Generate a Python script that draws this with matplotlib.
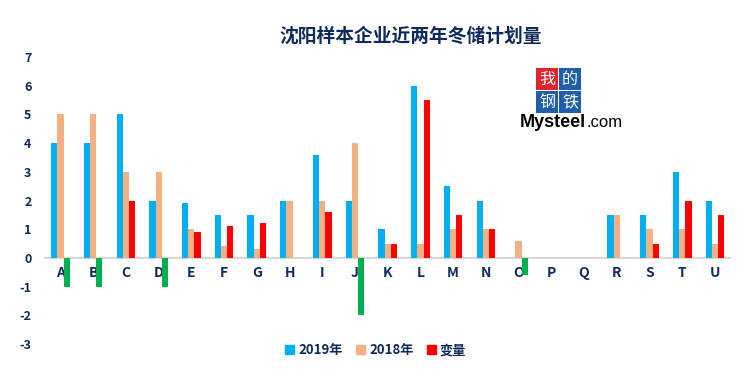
import matplotlib.pyplot as plt
import numpy as np
from matplotlib.patches import Patch, Rectangle

plt.rcParams['font.family'] = ['Noto Sans CJK SC', 'DejaVu Sans']

categories = list("ABCDEFGHIJKLMNOPQRSTU")
y2019 = [4, 4, 5, 2, 1.9, 1.5, 1.5, 2, 3.6, 2, 1, 6, 2.5, 2, 0, 0, 0, 1.5, 1.5, 3, 2]
y2018 = [5, 5, 3, 3, 1, 0.4, 0.3, 2, 2, 4, 0.5, 0.5, 1, 1, 0.6, 0, 0, 1.5, 1, 1, 0.5]
change = [-1, -1, 2, -1, 0.9, 1.1, 1.2, 0, 1.6, -2, 0.5, 5.5, 1.5, 1, -0.6, 0, 0, 0, 0.5, 2, 1.5]
yticks = list(range(-3, 8))

navy = '#0E2A5C'
c19 = '#00B0F0'
c18 = '#F4B183'
cchg = '#FF0000'
cneg = '#00B050'

fig = plt.figure(figsize=(7.47, 3.83), dpi=100)
ax = fig.add_axes([0.059, 0.102, 0.92, 0.749])

x = np.arange(len(categories))
w = 0.19
ax.bar(x - w, y2019, w, color=c19)
ax.bar(x, y2018, w, color=c18)
chg_colors = [cneg if v < 0 else cchg for v in change]
ax.bar(x + w, change, w, color=chg_colors)

ax.set_xlim(-0.5, len(categories) - 0.5)
ax.set_ylim(-3, 7)
ax.set_yticks(yticks)
ax.set_yticklabels([str(t) for t in yticks], fontsize=9, fontweight='bold', color=navy)
ax.tick_params(axis='y', length=0, pad=9)
ax.set_xticks([])
for i, c in enumerate(categories):
    ax.text(i, -0.52, c, ha='center', va='center', fontsize=10, fontweight='bold',
            color=navy, zorder=0)
ax.axhline(0, color='#D0D0D0', lw=1.2, zorder=0.5)
for s in ax.spines.values():
    s.set_visible(False)

fig.text(0.549, 0.905, '沈阳样本企业近两年冬储计划量', ha='center', va='center',
         fontsize=13.5, fontweight='bold', color=navy)

handles = [Patch(color=c19), Patch(color=c18), Patch(color=cchg)]
labels = ['2019年', '2018年', '变量']
leg = fig.legend(handles, labels, loc='center', bbox_to_anchor=(0.503, 0.085), ncol=3,
                 frameon=False, handlelength=0.7, handleheight=0.7, handletextpad=0.3,
                 columnspacing=1.0, prop={'size': 9.5, 'weight': 'bold'})
for t in leg.get_texts():
    t.set_color(navy)

# logo
W, H = 747, 383
bs = 22
boxes = [('我', 536, 68, '#E0242B'), ('的', 559, 68, '#1F5EA8'),
         ('钢', 536, 91, '#1F5EA8'), ('铁', 559, 91, '#1F5EA8')]
for ch, bx, by, bc in boxes:
    fig.patches.append(Rectangle((bx / W, 1 - (by + bs) / H), bs / W, bs / H,
                                 transform=fig.transFigure, fc=bc, ec='none'))
    fig.text((bx + bs / 2) / W, 1 - (by + bs / 2) / H, ch, ha='center', va='center',
             fontsize=11.5, color='white')
t1 = fig.text(520 / W, 1 - 127 / H, 'Mysteel', ha='left', va='baseline', fontsize=13,
              fontweight='bold', color='black', family='Liberation Sans')
fig.canvas.draw()
ext = t1.get_window_extent()
fig.text(ext.x1 / W + 0.001, 1 - 127 / H, '.com', ha='left', va='baseline', fontsize=12,
         color='black', family='Liberation Sans')

fig.savefig('out.png', dpi=100)
